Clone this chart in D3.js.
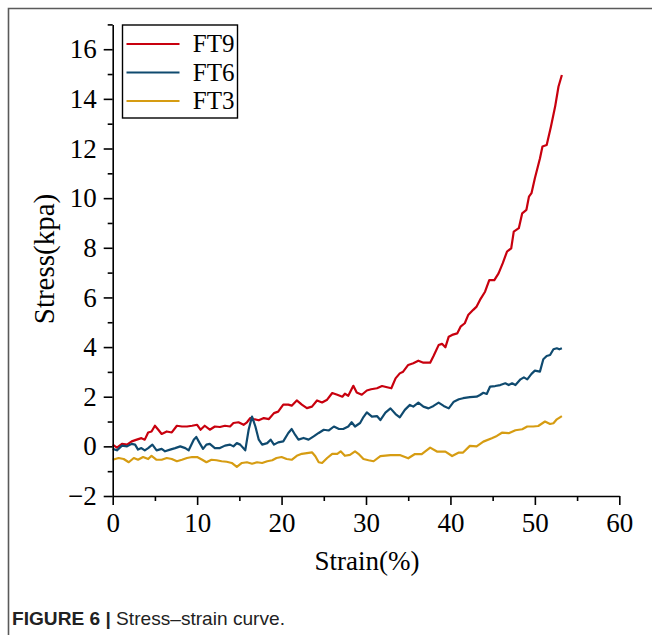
<!DOCTYPE html>
<html>
<head>
<meta charset="utf-8">
<script src="https://cdn.jsdelivr.net/npm/d3@7"></script>
<style>
  body { margin: 0; background: #fff; }
  svg { display: block; }
</style>
</head>
<body>
<div id="chart"></div>
<script>
// Strain (%) / stress (kPa) pairs
const ft9Strain = [0, 0.5, 1.1, 1.7, 2.25, 2.85, 3.4, 3.8, 4.2, 4.6, 5.0, 5.4, 5.8, 6.4, 7.0, 7.6, 8.2, 8.8, 9.4, 10.0,
    10.4, 10.9, 11.5, 12.1, 12.7, 13.3, 13.9, 14.3, 14.9, 15.5, 15.9, 16.3, 16.7, 17.3, 17.9, 18.5, 19.1, 19.6, 20.2, 20.8,
    21.2, 21.8, 22.4, 23.0, 23.6, 24.2, 24.8, 25.4, 26.0, 26.6, 27.2, 27.5, 27.9, 28.5, 28.9, 29.5, 30.1, 30.6, 31.3, 31.9,
    32.5, 33.0, 33.5, 34.0, 34.4, 35.0, 35.6, 36.2, 36.8, 37.6, 38.0, 38.6, 39.0, 39.4, 39.8, 40.2, 40.8, 41.2, 41.7, 42.1,
    42.7, 43.1, 43.5, 44.1, 44.6, 45.2, 45.7, 46.2, 46.7, 47.2, 47.5, 48.1, 48.5, 49.0, 49.3, 49.6, 50.0, 50.6, 50.9, 51.4,
    51.9, 52.4, 52.8, 53.2];
const ft9Stress = [0.07, -0.05, 0.1, 0.07, 0.2, 0.27, 0.33, 0.27, 0.56, 0.6, 0.83, 0.67, 0.5, 0.6, 0.56, 0.83, 0.8, 0.8, 0.83, 0.87,
    0.67, 0.83, 0.67, 0.8, 0.78, 0.83, 0.8, 0.94, 0.97, 0.87, 0.97, 1.14, 1.1, 1.05, 1.14, 1.1, 1.34, 1.4, 1.68, 1.68,
    1.64, 1.85, 1.68, 1.54, 1.6, 1.85, 1.77, 1.88, 2.15, 2.08, 2.0, 2.12, 2.04, 2.44, 2.17, 2.08, 2.25, 2.3, 2.34, 2.43,
    2.38, 2.34, 2.74, 2.94, 3.01, 3.28, 3.35, 3.45, 3.37, 3.37, 3.64, 4.08, 4.13, 3.99, 4.42, 4.49, 4.55, 4.82, 4.96, 5.29,
    5.5, 5.63, 5.9, 6.23, 6.7, 6.7, 6.97, 7.38, 7.85, 7.98, 8.65, 8.79, 9.39, 9.53, 10.06, 10.2, 10.8, 11.6, 12.08, 12.14,
    12.88, 13.69, 14.5, 14.96];

const ft6Strain = [0, 0.5, 1.1, 1.7, 2.25, 2.65, 3.0, 3.4, 3.8, 4.2, 4.7, 5.2, 5.8, 6.2, 6.8, 7.4, 8.0, 8.6, 9.0, 9.6,
    9.9, 10.3, 10.7, 11.1, 11.5, 12.1, 12.7, 13.3, 13.9, 14.3, 14.7, 15.1, 15.7, 16.1, 16.5, 16.9, 17.3, 17.7, 18.3, 18.7,
    19.1, 19.6, 20.2, 20.8, 21.2, 21.6, 22.0, 22.6, 23.2, 23.8, 24.4, 25.0, 25.6, 26.2, 26.8, 27.3, 27.9, 28.3, 28.7, 29.3,
    29.7, 30.1, 30.7, 31.3, 31.7, 32.3, 32.9, 33.5, 34.0, 34.6, 35.2, 35.6, 36.2, 36.8, 37.4, 38.0, 38.6, 39.2, 39.8, 40.4,
    41.0, 41.5, 42.3, 43.1, 43.5, 43.9, 44.3, 44.7, 45.3, 45.9, 46.5, 46.9, 47.3, 47.7, 48.3, 48.7, 49.1, 49.6, 50.0, 50.6,
    51.0, 51.4, 51.8, 52.2, 52.6, 52.9, 53.2];
const ft6Stress = [-0.1, -0.16, 0.03, 0.0, 0.1, 0.07, -0.13, -0.07, -0.16, -0.07, 0.07, -0.16, -0.1, -0.2, -0.13, -0.07, 0.0, -0.07, -0.16, 0.27,
    0.38, 0.13, -0.1, 0.07, 0.1, -0.07, -0.07, 0.03, 0.07, 0.0, 0.13, 0.07, -0.16, 0.67, 1.2, 0.8, 0.27, 0.07, 0.13, 0.27,
    0.07, 0.16, 0.2, 0.54, 0.7, 0.47, 0.27, 0.34, 0.27, 0.4, 0.54, 0.67, 0.64, 0.8, 0.7, 0.7, 0.8, 0.97, 0.8, 0.94,
    1.18, 1.37, 1.2, 1.22, 1.06, 1.36, 1.53, 1.3, 1.17, 1.47, 1.67, 1.6, 1.76, 1.6, 1.53, 1.63, 1.76, 1.63, 1.53, 1.8,
    1.9, 1.94, 1.98, 2.0, 2.07, 2.16, 2.11, 2.41, 2.43, 2.47, 2.54, 2.47, 2.54, 2.47, 2.7, 2.78, 2.7, 2.92, 3.05, 3.01,
    3.51, 3.64, 3.68, 3.91, 3.95, 3.91, 3.95];

const ft3Strain = [0, 0.7, 1.3, 1.9, 2.5, 3.0, 3.6, 4.2, 4.6, 5.2, 5.8, 6.4, 7.0, 7.6, 8.2, 8.8, 9.4, 10.0, 10.6, 11.1,
    11.7, 12.3, 12.9, 13.5, 14.1, 14.7, 15.3, 15.9, 16.5, 17.1, 17.7, 18.3, 18.9, 19.4, 20.0, 20.6, 21.2, 21.8, 22.4, 23.0,
    23.6, 24.0, 24.4, 24.8, 25.4, 26.0, 26.6, 27.0, 27.5, 28.1, 28.7, 29.1, 29.7, 30.3, 30.9, 31.7, 32.9, 34.0, 35.0, 35.8,
    36.6, 37.6, 38.4, 39.4, 40.2, 41.0, 41.5, 42.3, 43.1, 43.9, 44.9, 45.5, 46.1, 46.9, 47.7, 48.5, 49.1, 49.8, 50.4, 51.2,
    51.8, 52.2, 52.6, 53.2];
const ft3Stress = [-0.54, -0.47, -0.51, -0.64, -0.47, -0.54, -0.43, -0.51, -0.38, -0.54, -0.54, -0.47, -0.51, -0.6, -0.54, -0.47, -0.43, -0.43, -0.54, -0.64,
    -0.54, -0.56, -0.6, -0.62, -0.67, -0.83, -0.67, -0.64, -0.7, -0.64, -0.67, -0.6, -0.56, -0.47, -0.43, -0.51, -0.54, -0.38, -0.3, -0.27,
    -0.24, -0.4, -0.64, -0.67, -0.47, -0.3, -0.3, -0.2, -0.38, -0.34, -0.2, -0.3, -0.51, -0.56, -0.6, -0.39, -0.35, -0.35, -0.48, -0.31,
    -0.31, -0.05, -0.21, -0.21, -0.39, -0.25, -0.25, 0.02, 0.0, 0.19, 0.33, 0.42, 0.55, 0.53, 0.65, 0.69, 0.8, 0.8, 0.82, 1.0,
    0.9, 0.93, 1.09, 1.22];

const seriesNames = ['FT9', 'FT6', 'FT3'];
const seriesColors = ['#c8000e', '#0f4a6f', '#d69c12'];
const xTicks = [0, 10, 20, 30, 40, 50, 60];
const yTicks = [-2, 0, 2, 4, 6, 8, 10, 12, 14, 16];

const series = [
    { name: seriesNames[0], color: seriesColors[0], points: d3.zip(ft9Strain, ft9Stress) },
    { name: seriesNames[1], color: seriesColors[1], points: d3.zip(ft6Strain, ft6Stress) },
    { name: seriesNames[2], color: seriesColors[2], points: d3.zip(ft3Strain, ft3Stress) },
];

const width = 652;
const height = 635;
const serif = '"Liberation Serif", "Times New Roman", serif';

const x = d3.scaleLinear().domain([0, 60]).range([112.7, 619.3]);
const y = d3.scaleLinear().domain([-2, 17]).range([496, 24.4]);

const svg = d3.select('#chart').append('svg')
    .attr('width', width)
    .attr('height', height)
    .attr('viewBox', [0, 0, width, height]);

// figure frame (top and left edges only)
svg.append('path')
    .attr('d', `M8.5,${height} V8.5 H${width}`)
    .attr('fill', 'none')
    .attr('stroke', '#5a5a5a')
    .attr('stroke-width', 1.6);

// lines
const line = d3.line()
    .x(d => x(d[0]))
    .y(d => y(d[1]));

svg.append('g')
    .selectAll('path')
    .data(series)
    .join('path')
    .attr('fill', 'none')
    .attr('stroke', d => d.color)
    .attr('stroke-width', 2.2)
    .attr('stroke-linejoin', 'round')
    .attr('d', d => line(d.points));

// x axis
const xAxis = svg.append('g')
    .attr('transform', `translate(0,${y(-2)})`);
xAxis.call(d3.axisBottom(x).tickValues(d3.range(5, 60, 10)).tickSize(5).tickFormat(''))
    .call(g => g.select('.domain').remove());
xAxis.append('g')
    .call(d3.axisBottom(x).tickValues(xTicks).tickSize(9).tickSizeOuter(0).tickPadding(8))
    .call(g => g.selectAll('text')
        .attr('font-family', serif)
        .attr('font-size', 27)
        .attr('fill', '#000'));
xAxis.selectAll('line, path').attr('stroke', '#000').attr('stroke-width', 1.6);

// y axis
const yAxis = svg.append('g')
    .attr('transform', `translate(${x(0)},0)`);
yAxis.call(d3.axisLeft(y).tickValues(d3.range(-1, 18, 2)).tickSize(5).tickFormat(''))
    .call(g => g.select('.domain').remove());
yAxis.append('g')
    .call(d3.axisLeft(y).tickValues(yTicks).tickSize(9).tickSizeOuter(0).tickPadding(7)
        .tickFormat(d => d < 0 ? '\u2212' + Math.abs(d) : d))
    .call(g => g.selectAll('text')
        .attr('font-family', serif)
        .attr('font-size', 27)
        .attr('fill', '#000'));
yAxis.selectAll('line, path').attr('stroke', '#000').attr('stroke-width', 1.6);

// axis titles
svg.append('text')
    .attr('x', 367)
    .attr('y', 570)
    .attr('text-anchor', 'middle')
    .attr('font-family', serif)
    .attr('font-size', 27)
    .text('Strain(%)');

svg.append('text')
    .attr('transform', 'translate(54,259) rotate(-90)')
    .attr('text-anchor', 'middle')
    .attr('font-family', serif)
    .attr('font-size', 29)
    .text('Stress(kpa)');

// legend
const legend = svg.append('g')
    .attr('transform', 'translate(122.5,25)');

legend.append('rect')
    .attr('width', 115)
    .attr('height', 93)
    .attr('fill', '#fff')
    .attr('stroke', '#000')
    .attr('stroke-width', 1.4);

const legendItem = legend.selectAll('.legend')
    .data(series)
    .join('g')
    .attr('class', 'legend')
    .attr('transform', (d, i) => `translate(0, ${19 + i * 28.5})`);

legendItem.append('line')
    .attr('x1', 4)
    .attr('x2', 57)
    .attr('stroke', d => d.color)
    .attr('stroke-width', 2);

legendItem.append('text')
    .attr('x', 112)
    .attr('y', 8)
    .attr('text-anchor', 'end')
    .attr('font-family', serif)
    .attr('font-size', 25)
    .text(d => d.name);

// caption
const caption = svg.append('text')
    .attr('x', 12)
    .attr('y', 625)
    .attr('font-family', '"Liberation Sans", Arial, sans-serif')
    .attr('font-size', 19)
    .attr('fill', '#222')
    .attr('textLength', 273)
    .attr('lengthAdjust', 'spacingAndGlyphs');
caption.append('tspan').attr('font-weight', 'bold').text('FIGURE 6 | ');
caption.append('tspan').text('Stress\u2013strain curve.');
</script>
</body>
</html>
